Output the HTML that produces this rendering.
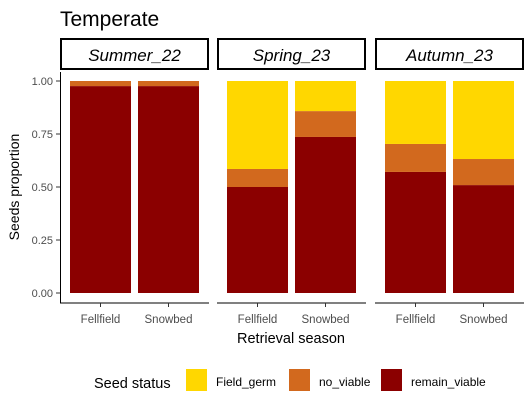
<!DOCTYPE html>
<html><head><meta charset="utf-8"><style>
body{margin:0;background:#fff;}
svg text{font-family:"Liberation Sans",Arial,sans-serif;}
</style></head><body>
<svg id="c" width="532" height="408" xmlns="http://www.w3.org/2000/svg">
<text x="60" y="26" font-size="21" fill="#000">Temperate</text>
<g id="plot"></g>
<text x="19" y="187" font-size="14" fill="#000" text-anchor="middle" transform="rotate(-90 19 187)">Seeds proportion</text>
<text x="291" y="343" font-size="14.5" fill="#000" text-anchor="middle">Retrieval season</text>
<g>
<text x="94" y="388" font-size="14.5" fill="#000">Seed status</text>
<rect x="186" y="369" width="21" height="22" fill="#FFD700"/>
<text x="216" y="386" font-size="12" fill="#000">Field_germ</text>
<rect x="289" y="369" width="21" height="22" fill="#D2691E"/>
<text x="319" y="386" font-size="12" fill="#000">no_viable</text>
<rect x="381" y="369" width="21" height="22" fill="#8B0000"/>
<text x="411" y="386" font-size="12" fill="#000">remain_viable</text>
</g>
</svg>
<script>
const seasons=["Summer_22","Spring_23","Autumn_23"];
const sites=["Fellfield","Snowbed"];
const remainViable=[[0.976,0.976],[0.50,0.736],[0.571,0.509]];
const noViable=[[0.024,0.024],[0.085,0.122],[0.132,0.123]];
const fieldGerm=[[0,0],[0.415,0.142],[0.297,0.368]];
const yTicks=[0,0.25,0.5,0.75,1.0];
const yTickLabels=["0.00","0.25","0.50","0.75","1.00"];
const NS="http://www.w3.org/2000/svg";
const g=document.getElementById('plot');
const panelX=[60,217,375], panelW=149, y0=293, yH=212;
const y=v=>y0-v*yH;
function mk(t,a,p){const e=document.createElementNS(NS,t);for(const k in a)e.setAttribute(k,a[k]);(p||g).appendChild(e);return e;}
let ax=mk('line',{x1:60.5,x2:60.5,y1:72,y2:303,stroke:'#000','stroke-width':1});

yTicks.forEach((t,i)=>{
 const l=mk('line',{x1:56,x2:60,y1:y(t),y2:y(t),stroke:'#333'});
 
 const tx=mk('text',{x:53,y:y(t)+4,'font-size':11,fill:'#4d4d4d','text-anchor':'end'});
 tx.textContent=yTickLabels[i];
 
});
seasons.forEach((s,p)=>{
 const px=panelX[p];
 const st=mk('rect',{x:px+1,y:39,width:panelW-2,height:30,fill:'#fff',stroke:'#000','stroke-width':2});
 
 const stt=mk('text',{x:px+panelW/2,y:61,'font-size':17,'font-style':'italic','text-anchor':'middle',fill:'#000'});
 stt.textContent=s;
 
 const bl=mk('line',{x1:px,x2:px+panelW,y1:303,y2:303,stroke:'#000'});
 
 sites.forEach((site,i)=>{
  const bx=px+10+i*68, bw=61;
  const r=remainViable[p][i], n=noViable[p][i], f=fieldGerm[p][i];
  const segs=[[0,r,'#8B0000','remain-viable'],[r,r+n,'#D2691E','no-viable'],[r+n,r+n+f,'#FFD700','field-germ']];
  segs.forEach(sg=>{
   if(sg[1]-sg[0]<=0)return;
   const b=mk('rect',{x:bx,y:y(sg[1]),width:bw,height:y(sg[0])-y(sg[1]),fill:sg[2]});
   
  });
  const tk=mk('line',{x1:bx+bw/2,x2:bx+bw/2,y1:303,y2:307,stroke:'#333'});
  
  const tl=mk('text',{x:bx+bw/2,y:323,'font-size':11.5,fill:'#4d4d4d','text-anchor':'middle'});
  tl.textContent=site;
  
 });
});
</script>
</body></html>
